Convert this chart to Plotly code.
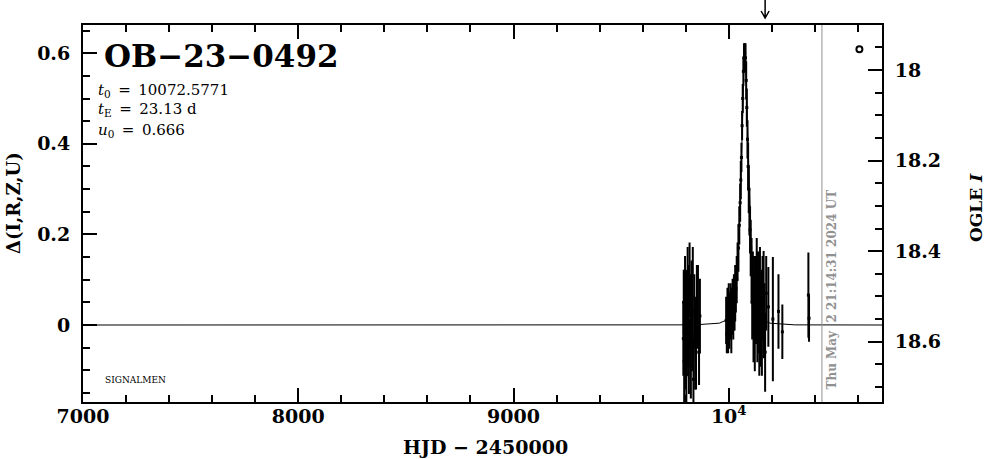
import plotly.graph_objects as go

# ---------------- data ----------------
# observations: time (HJD-2450000), Delta flux, error
obs_t = [9789, 9791, 9793, 9795, 9797, 9799, 9801, 9803, 9805, 9807, 9809, 9811, 9813, 9815,
         9818, 9821, 9824, 9827, 9830, 9833, 9836, 9840, 9844, 9848, 9852, 9857, 9862, 9866,
         9988, 9991, 9994, 9997, 10000, 10003, 10006, 10009, 10012, 10015, 10018, 10021, 10024,
         10027, 10030, 10033,
         10037, 10041, 10045, 10049, 10053, 10056, 10059, 10062, 10065, 10068, 10071, 10074,
         10078, 10081, 10084, 10087, 10090, 10093, 10096, 10099, 10102,
         10106, 10109, 10112, 10115, 10118, 10121, 10124, 10127, 10130, 10133, 10136, 10139,
         10142, 10145, 10148, 10151, 10154, 10157, 10162, 10166, 10169, 10174, 10184, 10205,
         10231, 10249, 10370, 10373]
obs_d = [-0.03, 0.05, -0.08, 0.02, 0.07, -0.05, 0.03, -0.11, 0.06, 0.00, 0.09, -0.04, 0.04, -0.07,
         0.10, 0.01, -0.09, 0.05, -0.02, 0.06, -0.12, 0.03, -0.04, -0.06, 0.05, 0.04, -0.06, 0.02,
         0.01, -0.02, 0.03, 0.00, 0.04, -0.01, 0.02, 0.05, 0.00, 0.03, 0.06, 0.02, 0.05,
         0.04, 0.07, 0.08,
         0.10, 0.14, 0.17, 0.22, 0.27, 0.32, 0.37, 0.44, 0.50, 0.56, 0.59, 0.60,
         0.59, 0.54, 0.48, 0.41, 0.35, 0.30, 0.25, 0.21, 0.17,
         0.12, 0.05, 0.10, 0.01, 0.08, -0.02, 0.06, 0.03, 0.11, -0.01, 0.07, 0.02,
         -0.04, 0.09, 0.00, 0.05, -0.03, 0.06, 0.045, 0.01, -0.06, 0.07, 0.04, 0.013,
         0.03, -0.015, 0.066, 0.015]
obs_e = [0.08, 0.07, 0.09, 0.10, 0.08, 0.09, 0.07, 0.08, 0.06, 0.09, 0.08, 0.07, 0.09, 0.08,
         0.08, 0.10, 0.07, 0.09, 0.08, 0.11, 0.09, 0.08, 0.10, 0.08, 0.08, 0.09, 0.07, 0.08,
         0.05, 0.04, 0.05, 0.06, 0.05, 0.04, 0.05, 0.04, 0.06, 0.05, 0.04, 0.05, 0.06,
         0.05, 0.06, 0.05,
         0.05, 0.04, 0.05, 0.04, 0.04, 0.04, 0.03, 0.03, 0.03, 0.03, 0.03, 0.02,
         0.03, 0.04, 0.04, 0.04, 0.05, 0.05, 0.05, 0.05, 0.06,
         0.07, 0.08, 0.06, 0.09, 0.07, 0.08, 0.09, 0.07, 0.08, 0.07, 0.09, 0.08,
         0.07, 0.08, 0.09, 0.07, 0.08, 0.09, 0.116, 0.08, 0.085, 0.08, 0.086, 0.135,
         0.08, 0.058, 0.092, 0.05]

# model curve
model_t = [7000, 9841, 9956, 9990.5, 10013.5, 10025, 10036.5, 10042.3, 10048, 10053.8, 10059.5,
           10065.3, 10071, 10074, 10077, 10082.7, 10088.5, 10094.2, 10100, 10105.7, 10111.5,
           10123, 10134.5, 10157.5, 10192, 10307, 10712]
model_d = [0.0, 0.0003, 0.004, 0.011, 0.030, 0.054, 0.101, 0.141, 0.198, 0.279, 0.387,
           0.511, 0.605, 0.620, 0.605, 0.511, 0.387, 0.279, 0.198, 0.141, 0.101,
           0.054, 0.030, 0.011, 0.004, 0.0003, 0.0]

# isolated open-circle point
extra_t = [10607]
extra_d = [0.609]

event_name = "OB\u221223\u22120492"
t0_text = "10072.5771"
tE_text = "23.13 d"
u0_text = "0.666"
now_t = 10433
now_text = "Thu May  2 21:14:31 2024 UT"
arrow_t = 10169

x_range = [7000, 10712]
x_ticks = [7000, 8000, 9000, 10000]
x_ticktext = ["7000", "8000", "9000", "10<sup>4</sup>"]
y_ticks = [0, 0.2, 0.4, 0.6]
y_ticktext = ["0", "0.2", "0.4", "0.6"]
mag_ticks = [18, 18.2, 18.4, 18.6]
mag_ticktext = ["18", "18.2", "18.4", "18.6"]

# ---------------- figure ----------------
FONT = "DejaVu Serif"
L, R, T, B = 83, 882, 25, 402
W, H = 986, 459

fig = go.Figure()

fig.add_trace(go.Scatter(x=model_t, y=model_d, mode="lines",
                         line=dict(color="black", width=1), hoverinfo="skip", showlegend=False))
fig.add_trace(go.Scatter(x=obs_t, y=obs_d, mode="markers",
                         marker=dict(symbol="square", size=3, color="black"),
                         error_y=dict(type="data", array=obs_e, color="black", thickness=2, width=1),
                         showlegend=False))
fig.add_trace(go.Scatter(x=extra_t, y=extra_d, mode="markers",
                         marker=dict(symbol="circle-open", size=6, color="black", line=dict(width=2)),
                         showlegend=False))
fig.add_trace(go.Scatter(x=[None], y=[None], yaxis="y2", showlegend=False))

tickfont = dict(family=FONT, size=19, color="black", weight="bold")
common = dict(showline=True, linewidth=2, linecolor="black", ticks="inside", ticklen=14,
              tickwidth=2, tickcolor="black", showgrid=False, zeroline=False, tickfont=tickfont)

arrow_paper_x = (arrow_t - x_range[0]) / float(x_range[1] - x_range[0])

fig.update_layout(
    width=W, height=H,
    margin=dict(l=L, r=W - R, t=T, b=H - B, autoexpand=False),
    plot_bgcolor="white", paper_bgcolor="white",
    xaxis=dict(range=x_range, tickvals=x_ticks, ticktext=x_ticktext, mirror="ticks",
               ticklabelstandoff=-4,
               minor=dict(ticks="inside", ticklen=7, tickwidth=2, tickcolor="black",
                          dtick=200, tick0=7000), **common),
    yaxis=dict(range=[-0.170, 0.6623], tickvals=y_ticks, ticktext=y_ticktext, mirror=False,
               ticklabelstandoff=7,
               minor=dict(ticks="inside", ticklen=7, tickwidth=2, tickcolor="black",
                          dtick=0.05, tick0=0), **common),
    yaxis2=dict(range=[18.733, 17.9007], overlaying="y", side="right", tickvals=mag_ticks,
                ticktext=mag_ticktext, ticklabelstandoff=7,
                minor=dict(ticks="inside", ticklen=7, tickwidth=2, tickcolor="black",
                           dtick=0.05, tick0=18), **common),
    shapes=[
        dict(type="line", xref="x", yref="paper", x0=now_t, x1=now_t, y0=0, y1=1,
             line=dict(color="#909090", width=1)),
        # arrow marker above the frame (paper refs so it is not clipped)
        dict(type="path", xref="paper", yref="paper", xsizemode="pixel", ysizemode="pixel",
             xanchor=arrow_paper_x, yanchor=1, path="M0,25 L0,7 M-4,14 L0,7 L4,14",
             line=dict(color="black", width=1.5)),
    ],
)

# page-pixel -> paper coordinates
def px(x):
    return (x - L) / float(R - L)

def py(y):
    return (B - y) / float(B - T)

ann = []
ann.append(dict(text=event_name, x=px(102), y=py(56), xref="paper", yref="paper",
                xanchor="left", yanchor="middle", showarrow=False,
                font=dict(family=FONT, size=31, color="black", weight="bold")))
small = dict(family=FONT, size=15, color="black")
eq = "\u2002=\u2002"
ann.append(dict(text="<i>t</i><sub>0</sub>" + eq + t0_text, x=px(96), y=py(90), xref="paper",
                yref="paper", xanchor="left", yanchor="middle", showarrow=False, font=small))
ann.append(dict(text="<i>t</i><sub>E</sub>" + eq + tE_text, x=px(96), y=py(110), xref="paper",
                yref="paper", xanchor="left", yanchor="middle", showarrow=False, font=small))
ann.append(dict(text="<i>u</i><sub>0</sub>" + eq + u0_text, x=px(96), y=py(130), xref="paper",
                yref="paper", xanchor="left", yanchor="middle", showarrow=False, font=small))
ann.append(dict(text="SIGNALMEN", x=px(103), y=py(380), xref="paper", yref="paper",
                xanchor="left", yanchor="middle", showarrow=False,
                font=dict(family=FONT, size=9, color="black")))
ann.append(dict(text="\u0394(I,R,Z,U)", x=px(13), y=py(203), xref="paper", yref="paper",
                xanchor="center", yanchor="middle", textangle=-90, showarrow=False,
                font=dict(family=FONT, size=18, color="black", weight="bold")))
ann.append(dict(text="OGLE <i>I</i>", x=px(976), y=py(208), xref="paper", yref="paper",
                xanchor="center", yanchor="middle", textangle=-90, showarrow=False,
                font=dict(family=FONT, size=17, color="black", weight="bold")))
ann.append(dict(text="HJD \u2212 2450000", x=px(485), y=py(447), xref="paper", yref="paper",
                xanchor="center", yanchor="middle", showarrow=False,
                font=dict(family=FONT, size=19, color="black", weight="bold")))
ann.append(dict(text=now_text, x=px(831.5), y=py(290), xref="paper", yref="paper",
                xanchor="center", yanchor="middle", textangle=-90, showarrow=False,
                font=dict(family=FONT, size=12, color="#909090", weight="bold")))
fig.update_layout(annotations=ann)

# the page is shown without the browser's default 8px body margin
fig.write_html("out.html", config={"displayModeBar": False},
               post_script="document.body.style.margin='0px';")
